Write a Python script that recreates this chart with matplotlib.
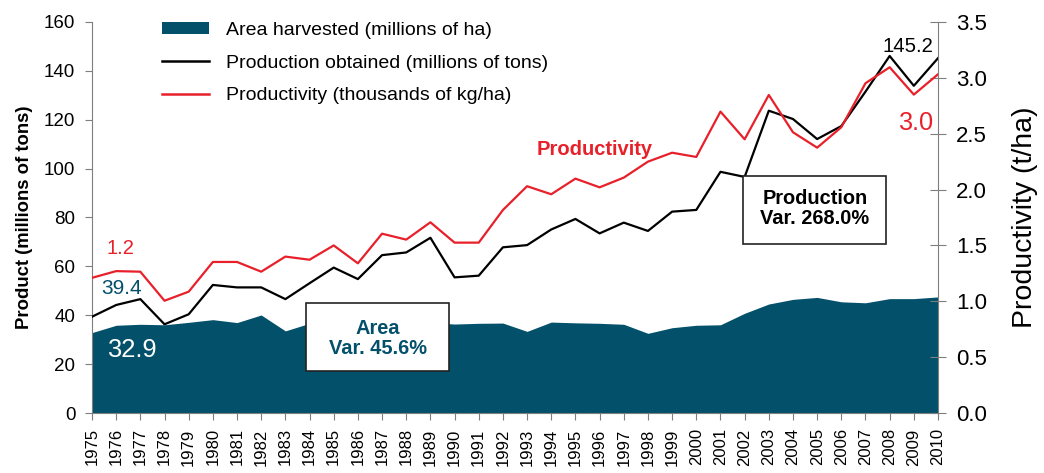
import matplotlib
matplotlib.use("Agg")
import matplotlib.pyplot as plt
from matplotlib.patches import Patch, Rectangle
from matplotlib.lines import Line2D

plt.rcParams['font.family'] = ['Liberation Sans', 'DejaVu Sans']

years = list(range(1975, 2011))
area = [32.9, 35.9, 36.3, 36.1, 37.1, 38.2, 37.0, 40.1, 33.6, 36.7,
        37.5, 37.8, 37.3, 37.8, 37.0, 36.4, 36.7, 36.8, 33.4, 37.2,
        36.9, 36.7, 36.3, 32.6, 34.9, 35.9, 36.1, 40.8, 44.6, 46.5,
        47.3, 45.5, 45.1, 46.8, 46.8, 47.5]
production = [39.4, 44.2, 46.6, 36.3, 40.4, 52.4, 51.4, 51.4, 46.6, 53.1,
              59.5, 54.8, 64.6, 65.7, 71.7, 55.5, 56.2, 67.8, 68.7, 75.1,
              79.4, 73.5, 77.9, 74.5, 82.4, 83.1, 98.7, 96.6, 123.7, 120.3,
              112.1, 117.4, 131.5, 146.1, 133.9, 145.2]
productivity = [1.21, 1.27, 1.265, 1.005, 1.086, 1.352, 1.352, 1.265, 1.40, 1.372,
                1.50, 1.34, 1.605, 1.552, 1.707, 1.525, 1.525, 1.817, 2.03, 1.958,
                2.098, 2.02, 2.107, 2.25, 2.33, 2.292, 2.698, 2.45, 2.847, 2.513,
                2.375, 2.558, 2.952, 3.095, 2.85, 3.032]

left_ticks = [0, 20, 40, 60, 80, 100, 120, 140, 160]
right_ticks = [0.0, 0.5, 1.0, 1.5, 2.0, 2.5, 3.0, 3.5]

teal = '#03506b'
red = '#e8202a'
grey = '#7f7f7f'

W, H = 1044, 473
fig = plt.figure(figsize=(W / 100, H / 100), dpi=100)
ax = fig.add_axes([92 / W, 1 - 413 / H, (938 - 92) / W, (413 - 22) / H])
ax2 = ax.twinx()

x = list(range(len(years)))
ax.fill_between(x, 0, area, color=teal, linewidth=0, zorder=1)
ax.plot(x, production, color='black', linewidth=1.6, zorder=3)
ax2.plot(x, productivity, color=red, linewidth=1.6, zorder=3)

ax.set_xlim(0, len(years) - 1)
ax.set_ylim(0, 160)
ax2.set_ylim(0, 3.5)
ax.set_xticks(x)
ax.set_xticklabels([str(y) for y in years], rotation=90, fontsize=12, va='top')
ax.set_yticks(left_ticks)
ax.set_yticklabels([str(t) for t in left_ticks], fontsize=13.5)
ax2.set_yticks(right_ticks)
ax2.set_yticklabels([f'{t:.1f}' for t in right_ticks], fontsize=16)

for a in (ax, ax2):
    a.spines['top'].set_visible(False)
    for s in ['left', 'right', 'bottom']:
        a.spines[s].set_color(grey)
ax2.spines['left'].set_visible(False)
ax.spines['right'].set_visible(False)
ax2.spines['bottom'].set_visible(False)

ax.tick_params(axis='y', direction='out', length=5, color=grey, pad=7)
ax.tick_params(axis='x', direction='out', length=5, color=grey, pad=6)
ax2.tick_params(axis='y', direction='inout', length=12, color=grey, pad=7)

ax.set_ylabel('Product (millions of tons)', fontsize=13.3, fontweight='bold', labelpad=8)
ax2.set_ylabel('Productivity (t/ha)', fontsize=20.5, labelpad=18)

handles = [Patch(facecolor=teal, edgecolor='none'),
           Line2D([], [], color='black', linewidth=1.8),
           Line2D([], [], color=red, linewidth=1.8)]
labels = ['Area harvested (millions of ha)',
          'Production obtained (millions of tons)',
          'Productivity (thousands of kg/ha)']
leg = ax2.legend(handles, labels, loc='upper left', bbox_to_anchor=(154 / W, 1 - 14 / H),
                 bbox_transform=fig.transFigure, frameon=False, fontsize=14,
                 handlelength=2.42, handleheight=0.62, handletextpad=0.88,
                 labelspacing=0.8, borderaxespad=0)


def ftext(px, py, s, **kw):
    fig.text(px / W, 1 - py / H, s, ha='center', va='center', zorder=10, **kw)


ftext(120, 249, '1.2', color=red, fontsize=14.5)
ftext(121.5, 288, '39.4', color=teal, fontsize=15)
ftext(132, 350, '32.9', color='white', fontsize=18.4)
ftext(594.5, 149.5, 'Productivity', color=red, fontsize=14.5, fontweight='bold')
ftext(907.5, 46, '145.2', color='black', fontsize=14.6)
ftext(917, 123.5, '3.0', color=red, fontsize=18.2)

for (x0, y0, x1, y1) in [(306, 303, 449, 371), (743, 176, 886, 244)]:
    fig.patches.append(Rectangle((x0 / W, 1 - y1 / H), (x1 - x0) / W, (y1 - y0) / H,
                                 transform=fig.transFigure, facecolor='white',
                                 edgecolor='#222222', linewidth=1.2, zorder=9))
ftext(378, 338.5, 'Area\nVar. 45.6%', color=teal, fontsize=14.4, fontweight='bold',
      linespacing=1.1)
ftext(815, 208.5, 'Production\nVar. 268.0%', color='black', fontsize=14.4,
      fontweight='bold', linespacing=1.1)

fig.savefig('out.png', dpi=100)
